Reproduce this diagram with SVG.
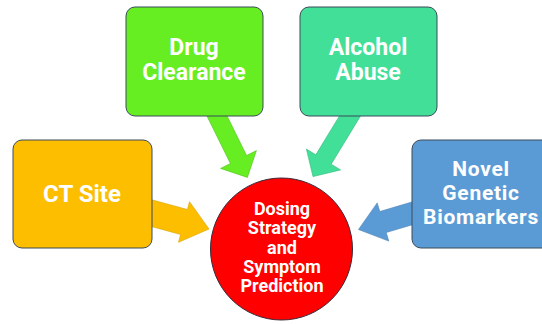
<svg xmlns="http://www.w3.org/2000/svg" width="542" height="324" viewBox="0 0 542 324">
<style>
.box{stroke:#3a4a5a;stroke-width:1}
.lbl{font-family:Roboto,"Liberation Sans",sans-serif;font-weight:bold;fill:#fff;text-anchor:middle;font-size:23px}
.nlbl{font-family:Roboto,"Liberation Sans",sans-serif;font-weight:bold;fill:#fff;text-anchor:middle;font-size:21px;letter-spacing:0.7px}
.clbl{font-family:Roboto,"Liberation Sans",sans-serif;font-weight:bold;fill:#fff;text-anchor:middle;font-size:18px}
.arr{stroke-width:0.6;stroke-linejoin:miter}
</style>
<rect width="542" height="324" fill="#fff"/>
<g id="connectors">
<polygon class="arr" fill="#FDBE00" stroke="#d9a200" points="143.4,197.5 187.4,209.5 189.5,201.7 209,229 178.5,242.3 180.6,234.5 136.6,222.5"/>
<polygon class="arr" fill="#66EE22" stroke="#4fc018" points="204,110 230.4,163.5 220.6,168.4 247.4,177.4 256.4,150.6 246.6,155.5 220.2,102.1"/>
<polygon class="arr" fill="#41DF98" stroke="#30b87c" points="363.4,111.3 331.2,164.2 340.6,169.9 313,176.6 306.4,149.1 315.8,154.8 348,101.9"/>
<polygon class="arr" fill="#5B9BD5" stroke="#4a82b5" points="420.3,199.5 379.8,211.5 377.2,202.9 358.5,229.5 388.8,241.1 386.2,232.5 426.7,220.5"/>
</g>
<g id="ct-site">
<rect class="box" x="13" y="140" width="139" height="108" rx="9" fill="#FDBE00"/>
<text class="lbl" x="82" y="202" style="font-size:24px">CT Site</text>
</g>
<g id="drug-clearance">
<rect class="box" x="126" y="7" width="137" height="109" rx="9" fill="#66EE22"/>
<text class="lbl" x="194" y="55">Drug</text>
<text class="lbl" x="194" y="80">Clearance</text>
</g>
<g id="alcohol-abuse">
<rect class="box" x="300" y="7" width="137" height="109" rx="9" fill="#41DF98"/>
<text class="lbl" x="368" y="55">Alcohol</text>
<text class="lbl" x="368" y="80">Abuse</text>
</g>
<g id="novel-genetic-biomarkers">
<rect class="box" x="412" y="140" width="146" height="108" rx="9" fill="#5B9BD5"/>
<text class="nlbl" x="481" y="176">Novel</text>
<text class="nlbl" x="481" y="200">Genetic</text>
<text class="nlbl" x="481" y="224">Biomarkers</text>
</g>
<g id="dosing-strategy">
<circle cx="281.5" cy="249" r="71" fill="#FF0000" stroke="#3a2a3a" stroke-width="1"/>
<text class="clbl" x="282" y="215">Dosing</text>
<text class="clbl" x="282" y="234">Strategy</text>
<text class="clbl" x="282" y="253.5">and</text>
<text class="clbl" x="282" y="273">Symptom</text>
<text class="clbl" x="282" y="292">Prediction</text>
</g>
</svg>
